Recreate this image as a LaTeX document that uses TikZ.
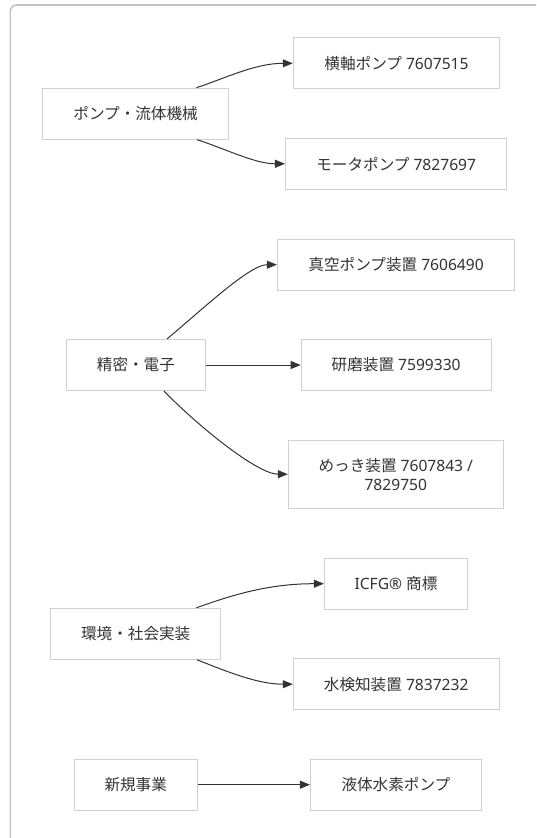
\documentclass[tikz,border=0pt]{standalone}
\usepackage{fontspec}
\setmainfont{Noto Sans}
\newfontfamily\jpf{Noto Sans CJK JP}
\usetikzlibrary{arrows.meta}
\definecolor{txtcol}{HTML}{333333}
\definecolor{linecol}{HTML}{333333}
\definecolor{boxcol}{HTML}{D0D0D0}
\definecolor{framecol}{HTML}{C4C4C4}
\tikzset{
  box/.style={draw=boxcol, line width=1pt, fill=white, text=txtcol,
    minimum height=51pt, inner sep=0pt, align=center,
    font=\fontsize{15.6}{19}\selectfont},
  link/.style={draw=linecol, line width=1pt, -{Triangle[length=10pt,width=8pt]}}
}
\begin{document}
\begin{tikzpicture}[x=1pt,y=-1pt]
\useasboundingbox (0,0) rectangle (536,838);
\clip (0,0) rectangle (536,838);
\draw[framecol, line width=1.6pt, rounded corners=6pt] (10.3,5) rectangle (600,900);

\node[box, minimum width=185.7pt] (pump) at (135.6,113.7) {{\jpf ポンプ・流体機械}};
\node[box, minimum width=206.5pt] (yoko) at (396.5,63.3) {{\jpf 横軸ポンプ} 7607515};
\node[box, minimum width=221.5pt] (mota) at (396.2,163.8) {{\jpf モータポンプ} 7827697};

\node[box, minimum width=237.6pt] (shinku) at (396.1,264.7) {{\jpf 真空ポンプ装置} 7606490};
\node[box, minimum width=138.4pt] (seimitsu) at (135.9,365) {{\jpf 精密・電子}};
\node[box, minimum width=190.1pt] (kenma) at (396.2,365) {{\jpf 研磨装置} 7599330};
\node[box, minimum width=215pt, minimum height=68pt] (mekki) at (395.8,474.2) {{\jpf めっき装置} 7607843 /\\7829750};

\node[box, minimum width=143.3pt] (icfg) at (396,583.7) {ICFG® {\jpf 商標}};
\node[box, minimum width=170.3pt] (kankyo) at (135.7,633.8) {{\jpf 環境・社会実装}};
\node[box, minimum width=205.8pt] (mizu) at (396.2,684.2) {{\jpf 水検知装置} 7837232};

\node[box, minimum width=123.1pt] (shinki) at (135.7,784.7) {{\jpf 新規事業}};
\node[box, minimum width=171pt] (ekitai) at (395.9,784.7) {{\jpf 液体水素ポンプ}};

\draw[link] ([xshift=-32.5pt]pump.north east) .. controls (225,78.4) and (255,63.3) .. (yoko.west);
\draw[link] ([xshift=-31.8pt]pump.south east) .. controls (225,148.7) and (255,163.8) .. (mota.west);
\draw[link] ([xshift=-38.6pt]seimitsu.north east) .. controls (205,307) and (250,264.7) .. (shinku.west);
\draw[link] (seimitsu.east) -- (kenma.west);
\draw[link] ([xshift=-41.7pt]seimitsu.south east) .. controls (200,428) and (258,474.2) .. (mekki.west);
\draw[link] ([xshift=-25pt]kankyo.north east) .. controls (235,594) and (270,583.7) .. (icfg.west);
\draw[link] ([xshift=-24.3pt]kankyo.south east) .. controls (228,672) and (258,684.2) .. (mizu.west);
\draw[link] (shinki.east) -- (ekitai.west);
\end{tikzpicture}
\end{document}
